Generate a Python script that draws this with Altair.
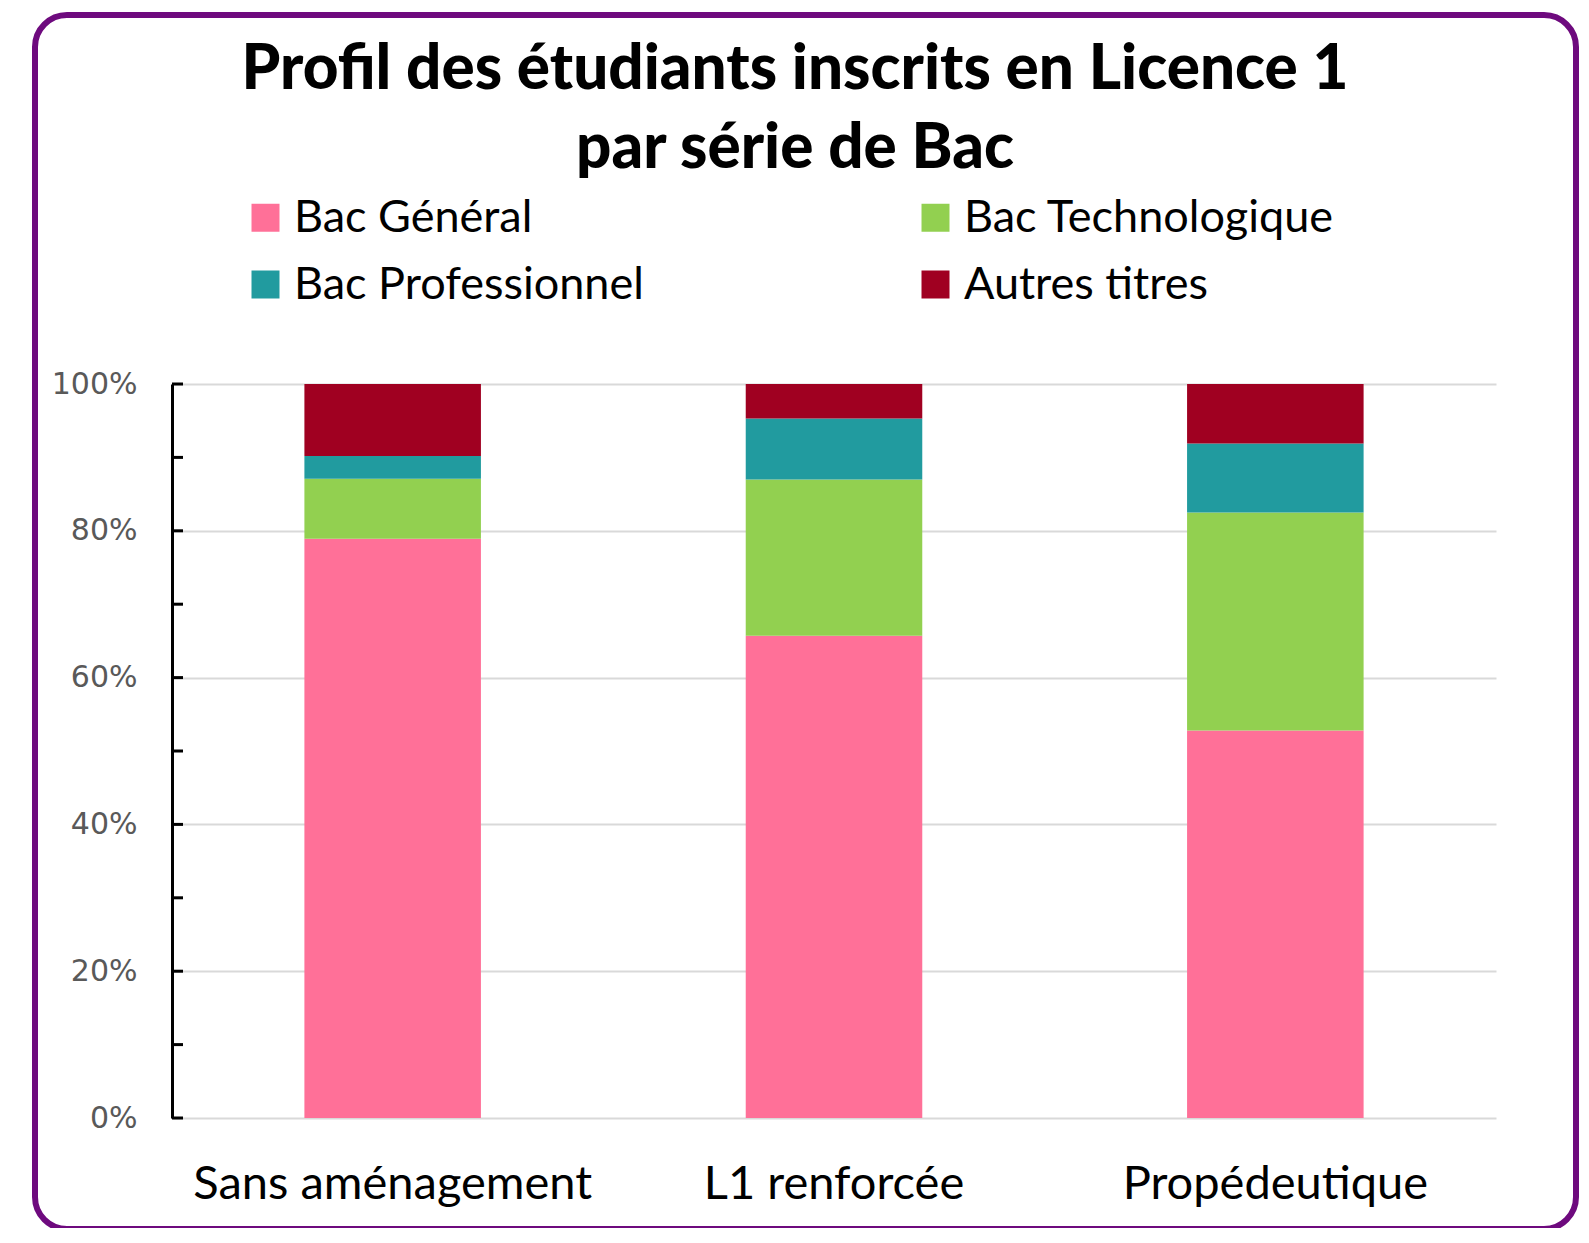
import altair as alt
import pandas as pd

categories = ["Sans aménagement", "L1 renforcée", "Propédeutique"]
series = ["Bac Général", "Bac Technologique", "Bac Professionnel", "Autres titres"]
colors = ["#FF7098", "#92D050", "#219B9F", "#A00021"]

bac_general = [78.9, 65.7, 52.8]
bac_techno = [8.2, 21.3, 29.7]
bac_pro = [3.1, 8.3, 9.4]
autres = [9.8, 4.7, 8.1]

y_ticks = [0, 10, 20, 30, 40, 50, 60, 70, 80, 90, 100]
y_labels = [0, 20, 40, 60, 80, 100]

rows = []
for s_i, (name, vals) in enumerate(zip(series, [bac_general, bac_techno, bac_pro, autres])):
    for c, v in zip(categories, vals):
        rows.append({"cat": c, "serie": name, "val": v, "rank": s_i})
df = pd.DataFrame(rows)

W, H = 1324, 734

bars = alt.Chart(df).mark_bar().encode(
    x=alt.X("cat:N", sort=categories, title=None,
            scale=alt.Scale(paddingInner=0.6, paddingOuter=0.3),
            axis=alt.Axis(domain=False, ticks=False, labelAngle=0, labelLimit=0,
                          labelFont="Lato", labelFontSize=47, labelColor="#000000",
                          labelBaseline="alphabetic", labelPadding=80, grid=False)),
    y=alt.Y("val:Q", stack="zero", title=None,
            scale=alt.Scale(domain=[0, 100], nice=False),
            axis=alt.Axis(values=y_labels, labelExpr="datum.value + '%'",
                          domain=True, domainColor="#000000", domainWidth=3,
                          ticks=False, grid=True, gridColor="#d9d9d9", gridWidth=2,
                          labelFont="DejaVu Sans", labelFontSize=30, labelColor="#595959",
                          labelPadding=35, labelLimit=0)),
    color=alt.Color("serie:N", sort=series,
                    scale=alt.Scale(domain=series, range=colors),
                    legend=alt.Legend(title=None, orient="none", legendX=71, legendY=-189,
                                      direction="horizontal",
                                      columns=2, columnPadding=269, rowPadding=21,
                                      symbolType="square", symbolSize=784,
                                      symbolStrokeWidth=0, labelOffset=6, labelLimit=0,
                                      labelFont="Lato", labelFontSize=45,
                                      labelColor="#000000", padding=0)),
    order=alt.Order("rank:Q", sort="ascending"),
)

tick_df = pd.DataFrame({"t": y_ticks})
ticks = alt.Chart(tick_df).mark_rule(color="#000000", strokeWidth=3).encode(
    y=alt.Y("t:Q", scale=alt.Scale(domain=[0, 100], nice=False)),
    x=alt.value(0),
    x2=alt.value(11),
)

frame = alt.Chart(pd.DataFrame({"k": [0]})).mark_rect(
    fill="transparent", stroke="#6E0A7E", strokeWidth=6, cornerRadius=32
).encode(
    x=alt.value(-137), x2=alt.value(1404),
    y=alt.value(-369), y2=alt.value(845),
)

chart = alt.layer(frame, bars, ticks).properties(
    width=W, height=H,
    autosize=alt.AutoSizeParams(type="none"),
    padding={"left": 164, "top": 376, "right": 85, "bottom": 110},
    title=alt.TitleParams(
        text=["Profil des étudiants inscrits en Licence 1", "par série de Bac"],
        font="Lato", fontSize=62, fontWeight=900, color="#000000",
        anchor="middle", dx=-39, dy=189, lineHeight=79, offset=20,
    ),
).configure_view(stroke=None)

chart.save("out.html", embed_options={"renderer": "svg", "actions": False})
